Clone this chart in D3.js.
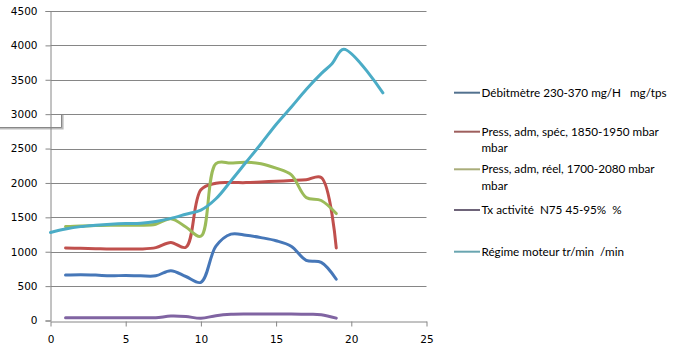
<!DOCTYPE html>
<html>
<head>
<meta charset="utf-8">
<script src="https://cdn.jsdelivr.net/npm/d3@7/dist/d3.min.js"></script>
<style>
html,body{margin:0;padding:0;background:#fff;}
svg text{white-space:pre;}
</style>
</head>
<body>
<svg id="chart" width="678" height="356"></svg>
<script>
// ---- data ----
const xValues = [1,2,3,4,5,6,7,8,9,10,11,12,13,14,15,16,17,18,19];
const debitmetre = [660,665,660,650,655,650,650,725,640,555,1080,1255,1240,1205,1160,1080,875,845,600];
const pressSpec  = [1055,1050,1045,1040,1040,1040,1060,1135,1065,1900,1995,2005,2005,2015,2025,2035,2045,2080,1055];
const pressReel  = [1365,1375,1380,1385,1385,1385,1400,1480,1360,1225,2280,2290,2300,2280,2215,2120,1790,1745,1555];
const txActivite = [40,40,40,40,40,40,40,65,58,32,70,90,95,95,95,95,90,85,35];
const regimeX = [0,1,2,3,4,5,6,7,8,9,10,11,12,13,14,15,16,17,18,18.7,19.5,22.1];
const regime  = [1280,1330,1365,1385,1400,1410,1415,1440,1485,1545,1605,1770,2030,2300,2570,2850,3100,3360,3590,3730,3945,3310];
const seriesNames = ["Débitmètre 230-370 mg/H   mg/tps","Press, adm, spéc, 1850-1950 mbar\nmbar","Press, adm, réel, 1700-2080 mbar\nmbar","Tx activité  N75 45-95%  %","Régime moteur tr/min  /min"];
const seriesColors = ["#4677b8","#c0504d","#9bbb59","#8064a2","#4bacc6"];
const legendColors = ["#52718f","#9e5f5d","#a9ad7a","#6e6479","#69a5b0"];
const xTicks = [0,5,10,15,20,25];
const yTicks = [0,500,1000,1500,2000,2500,3000,3500,4000,4500];

const svg = d3.select("#chart");
const x = d3.scaleLinear().domain([0,25]).range([50.5,426.5]);
const y = d3.scaleLinear().domain([0,4500]).range([320.5,11]);

// shadow artifact box corner
const sh = svg.append("g");
sh.append("path").attr("d","M0,128.5H62.5V114").attr("fill","none").attr("stroke","#bbb").attr("stroke-width",2.2);
sh.append("path").attr("d","M0,127.5H61.5V114").attr("fill","none").attr("stroke","#888").attr("stroke-width",1);

// gridlines
svg.append("g").selectAll("line").data(yTicks.filter(d=>d>0)).join("line")
  .attr("x1",x(0)).attr("x2",x(25)).attr("y1",d=>Math.round(y(d))+0.5).attr("y2",d=>Math.round(y(d))+0.5)
  .attr("stroke","#868686").attr("stroke-width",1);

// y axis
const yAxis = svg.append("g").attr("transform",`translate(${x(0)},0)`)
  .call(d3.axisLeft(y).tickValues(yTicks).tickSize(5).tickPadding(8).tickFormat(d3.format("d")));
yAxis.select(".domain").attr("stroke","#868686");
yAxis.selectAll(".tick line").attr("stroke","#868686");
yAxis.selectAll(".tick text").attr("font-family","DejaVu Sans").attr("font-size",10.5).attr("fill","#000");

// x axis
const xAxis = svg.append("g").attr("transform",`translate(0,${Math.round(y(0))+0.5})`)
  .call(d3.axisBottom(x).tickValues(xTicks).tickSize(5).tickPadding(9).tickSizeOuter(0));
xAxis.select(".domain").attr("stroke","#868686");
xAxis.selectAll(".tick line").attr("stroke","#868686");
xAxis.selectAll(".tick text").attr("font-family","DejaVu Sans").attr("font-size",10.5).attr("fill","#000");

// lines
const curve = d3.curveCatmullRom.alpha(0.5);
const series = [
  {xs:xValues, ys:debitmetre},
  {xs:xValues, ys:pressSpec},
  {xs:xValues, ys:pressReel},
  {xs:xValues, ys:txActivite},
  {xs:regimeX, ys:regime}
];
const line = d3.line().x(d=>x(d[0])).y(d=>y(d[1])).curve(curve);
series.forEach((s,i)=>{
  const pts = s.xs.map((xv,j)=>[xv,s.ys[j]]);
  svg.append("path").datum(pts).attr("d",line).attr("fill","none")
    .attr("stroke",seriesColors[i]).attr("stroke-width",3).attr("stroke-linejoin","round").attr("stroke-linecap","round");
});

// legend
const legendY = [92.7,131.7,169.3,210,251.7];
const lg = svg.append("g");
seriesNames.forEach((name,i)=>{
  lg.append("line").attr("x1",454).attr("x2",480).attr("y1",legendY[i]).attr("y2",legendY[i])
    .attr("stroke",legendColors[i]).attr("stroke-width",2);
  const t = lg.append("text").attr("x",481.5).attr("y",legendY[i]+4)
    .attr("font-family","Lato").attr("font-size",11.7).attr("fill","#000");
  name.split("\n").forEach((part,k)=>{
    t.append("tspan").attr("x",481.5).attr("dy",k===0?0:16.6).text(part);
  });
});
</script>
</body>
</html>
